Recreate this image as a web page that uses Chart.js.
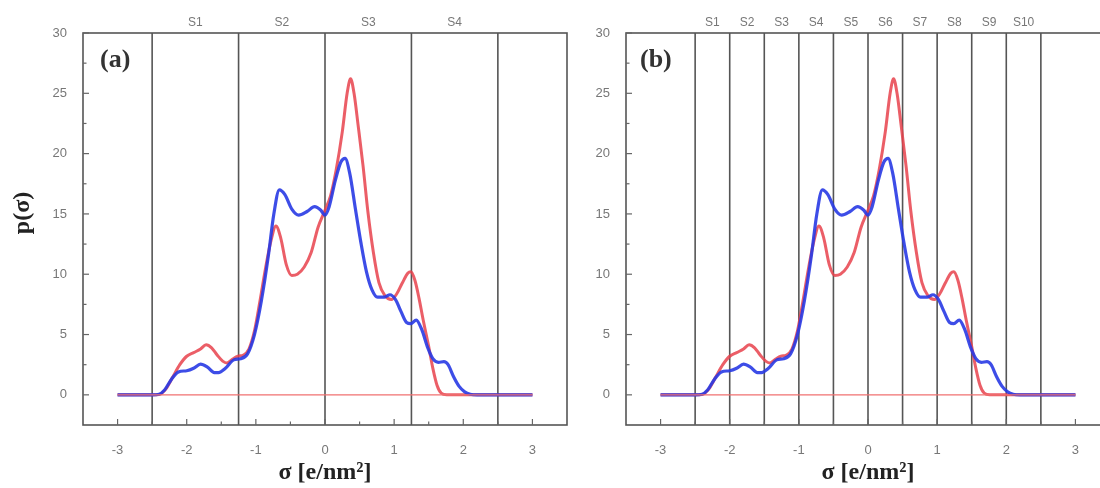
<!DOCTYPE html>
<html>
<head>
<meta charset="utf-8">
<script src="https://cdn.jsdelivr.net/npm/chart.js@4.4.0/dist/chart.umd.min.js"></script>
<style>
  html, body { margin: 0; padding: 0; background: #fff; overflow: hidden; }
  canvas { position: absolute; top: 0; }
</style>
</head>
<body>
<canvas id="chartA" width="570" height="488" style="left:0px"></canvas>
<canvas id="chartB" width="545" height="488" style="left:570px"></canvas>
<script>
/*----------------------------------------*/
/*  data
/*----------------------------------------*/
var sigmaBlue = [-3.0, -2.5, -2.4, -2.32, -2.22, -2.12, -2.0, -1.9, -1.8, -1.7, -1.6, -1.54, -1.44, -1.32, -1.22, -1.12, -1.02,
  -0.92, -0.82, -0.74, -0.66, -0.58, -0.48, -0.38, -0.26, -0.15, -0.06, 0.0, 0.06, 0.15, 0.23, 0.29, 0.36, 0.44, 0.52, 0.6,
  0.68, 0.76, 0.86, 0.94, 1.02, 1.1, 1.18, 1.24, 1.32, 1.4, 1.48, 1.56, 1.64, 1.72, 1.78, 1.86, 1.94, 2.02, 2.1, 2.2, 3.0];
var pBlue = [0, 0, 0.05, 0.4, 1.3, 1.9, 2.0, 2.2, 2.55, 2.3, 1.85, 1.85, 2.2, 2.9, 3.0, 3.4, 5.0,
  7.8, 11.5, 15.0, 17.0, 16.6, 15.4, 14.9, 15.2, 15.6, 15.3, 14.9, 15.6, 17.8, 19.3, 19.6, 18.3, 15.4, 12.6, 10.2,
  8.7, 8.1, 8.1, 8.3, 7.9, 6.9, 6.0, 5.9, 6.2, 5.4, 4.0, 3.0, 2.7, 2.75, 2.5, 1.5, 0.7, 0.25, 0.05, 0, 0];

var sigmaRed = [-3.0, -2.5, -2.4, -2.3, -2.2, -2.1, -2.0, -1.9, -1.8, -1.72, -1.64, -1.56, -1.48, -1.42, -1.34, -1.26, -1.18,
  -1.1, -1.02, -0.94, -0.86, -0.78, -0.71, -0.64, -0.56, -0.48, -0.4, -0.3, -0.2, -0.1, 0.0, 0.08, 0.16, 0.25, 0.32, 0.37,
  0.42, 0.48, 0.55, 0.62, 0.7, 0.78, 0.87, 0.96, 1.04, 1.12, 1.2, 1.24, 1.3, 1.36, 1.42, 1.5, 1.56, 1.62, 1.68, 1.76, 3.0];
var pRed = [0, 0, 0.02, 0.5, 1.5, 2.5, 3.2, 3.5, 3.8, 4.15, 3.9, 3.3, 2.8, 2.65, 2.95, 3.2, 3.3,
  3.8, 5.3, 7.8, 10.5, 12.8, 14.0, 13.0, 10.8, 9.9, 10.0, 10.6, 11.8, 13.9, 15.3, 16.5, 18.6, 21.8, 25.0, 26.2,
  25.0, 22.3, 19.0, 15.2, 11.8, 9.3, 8.2, 7.9, 8.4, 9.3, 10.1, 10.2, 9.5, 8.0, 6.2, 4.0, 2.2, 0.8, 0.15, 0, 0];

var baseSigma = [-3, 3];
var baseP = [0, 0];

var xTicks = [-3, -2, -1, 0, 1, 2, 3];
var yTicks = [0, 5, 10, 15, 20, 25, 30];

var boundsA = [-2.5, -1.25, 0, 1.25, 2.5];
var segLabelsA = ['S1', 'S2', 'S3', 'S4'];
var boundsB = [-2.5, -2, -1.5, -1, -0.5, 0, 0.5, 1, 1.5, 2, 2.5];
var segLabelsB = ['S1', 'S2', 'S3', 'S4', 'S5', 'S6', 'S7', 'S8', 'S9', 'S10'];

function pts(xs, ys) {
  return xs.map(function (v, i) { return { x: v, y: ys[i] }; });
}

/*----------------------------------------*/
/*  frame, segment lines, ticks, labels
/*----------------------------------------*/
var panelDeco = {
  id: 'panelDeco',
  beforeDatasetsDraw: function (chart, args, opts) {
    var ctx = chart.ctx, a = chart.chartArea, x = chart.scales.x;
    ctx.save();
    ctx.strokeStyle = '#555';
    ctx.lineWidth = 1.6;
    opts.bounds.forEach(function (b) {
      var px = x.getPixelForValue(b);
      ctx.beginPath();
      ctx.moveTo(px, a.top);
      ctx.lineTo(px, a.bottom);
      ctx.stroke();
    });
    ctx.restore();
  },
  afterDraw: function (chart, args, opts) {
    var ctx = chart.ctx, a = chart.chartArea, x = chart.scales.x, y = chart.scales.y;
    ctx.save();
    // frame
    ctx.strokeStyle = '#555';
    ctx.lineWidth = 1.6;
    ctx.strokeRect(a.left, a.top, a.right - a.left, a.bottom - a.top);

    // inward ticks
    ctx.strokeStyle = '#666';
    ctx.lineWidth = 1.2;
    xTicks.forEach(function (v) {
      var px = x.getPixelForValue(v);
      ctx.beginPath(); ctx.moveTo(px, a.bottom); ctx.lineTo(px, a.bottom - 6); ctx.stroke();
      if (v + 0.5 < x.max) {
        px = x.getPixelForValue(v + 0.5);
        ctx.beginPath(); ctx.moveTo(px, a.bottom); ctx.lineTo(px, a.bottom - 3.5); ctx.stroke();
      }
    });
    yTicks.forEach(function (v) {
      var py = y.getPixelForValue(v);
      ctx.beginPath(); ctx.moveTo(a.left, py); ctx.lineTo(a.left + 6, py); ctx.stroke();
      if (v + 2.5 < y.max) {
        py = y.getPixelForValue(v + 2.5);
        ctx.beginPath(); ctx.moveTo(a.left, py); ctx.lineTo(a.left + 3.5, py); ctx.stroke();
      }
    });

    // segment labels
    ctx.fillStyle = '#777';
    ctx.font = '12px "Liberation Sans", Arial, sans-serif';
    ctx.textAlign = 'center';
    ctx.textBaseline = 'middle';
    opts.segs.forEach(function (s, i) {
      var mid = (opts.bounds[i] + opts.bounds[i + 1]) / 2;
      ctx.fillText(s, x.getPixelForValue(mid), a.top - 10);
    });

    // panel tag
    ctx.fillStyle = '#333';
    ctx.font = 'bold 26px "Liberation Serif", "Times New Roman", serif';
    ctx.textAlign = 'left';
    ctx.fillText(opts.tag, a.left + opts.tagDx, 60);

    // axis titles
    ctx.fillStyle = '#222';
    ctx.font = 'bold 24px "Liberation Serif", "Times New Roman", serif';
    ctx.textAlign = 'center';
    ctx.fillText('σ [e/nm²]', x.getPixelForValue(0), 473);
    if (opts.yTitle) {
      ctx.translate(23, 213);
      ctx.rotate(-Math.PI / 2);
      ctx.fillText(opts.yTitle, 0, 0);
    }
    ctx.restore();
  }
};

function makePanel(id, yWidth, rightPad, bounds, segs, tag, tagDx, yTitle) {
  return new Chart(document.getElementById(id), {
    type: 'line',
    data: {
      datasets: [{
        label: 'base',
        data: pts(baseSigma, baseP),
        borderColor: '#f07070',
        borderWidth: 1.2,
        pointRadius: 0
      }, {
        label: 'blue',
        data: pts(sigmaBlue, pBlue),
        borderColor: 'rgba(40, 58, 228, 0.9)',
        borderWidth: 3.2,
        pointRadius: 0,
        cubicInterpolationMode: 'monotone'
      }, {
        label: 'red',
        data: pts(sigmaRed, pRed),
        borderColor: 'rgba(232, 66, 76, 0.85)',
        borderWidth: 3,
        pointRadius: 0,
        cubicInterpolationMode: 'monotone'
      }]
    },
    options: {
      responsive: false,
      animation: false,
      layout: { padding: { top: 33, right: rightPad, left: 0, bottom: 0 } },
      plugins: {
        legend: { display: false },
        tooltip: { enabled: false },
        panelDeco: { bounds: bounds, segs: segs, tag: tag, tagDx: tagDx, yTitle: yTitle }
      },
      scales: {
        x: {
          type: 'linear',
          min: -3.5,
          max: 3.5,
          grid: { display: false },
          border: { display: false },
          afterBuildTicks: function (s) { s.ticks = xTicks.map(function (v) { return { value: v }; }); },
          afterFit: function (s) { s.height = 63; },
          ticks: {
            padding: 10,
            color: '#777',
            font: { family: '"Liberation Sans", Arial, sans-serif', size: 13 },
            maxRotation: 0
          }
        },
        y: {
          min: -2.5,
          max: 30,
          grid: { display: false },
          border: { display: false },
          afterBuildTicks: function (s) { s.ticks = yTicks.map(function (v) { return { value: v }; }); },
          afterFit: function (s) { s.width = yWidth; },
          ticks: {
            padding: 8,
            color: '#777',
            font: { family: '"Liberation Sans", Arial, sans-serif', size: 13 }
          }
        }
      }
    },
    plugins: [panelDeco]
  });
}

var chartA = makePanel('chartA', 83, 3, boundsA, segLabelsA, '(a)', 17, 'p(σ)');
var chartB = makePanel('chartB', 56, 5, boundsB, segLabelsB, '(b)', 14, null);
</script>
</body>
</html>
